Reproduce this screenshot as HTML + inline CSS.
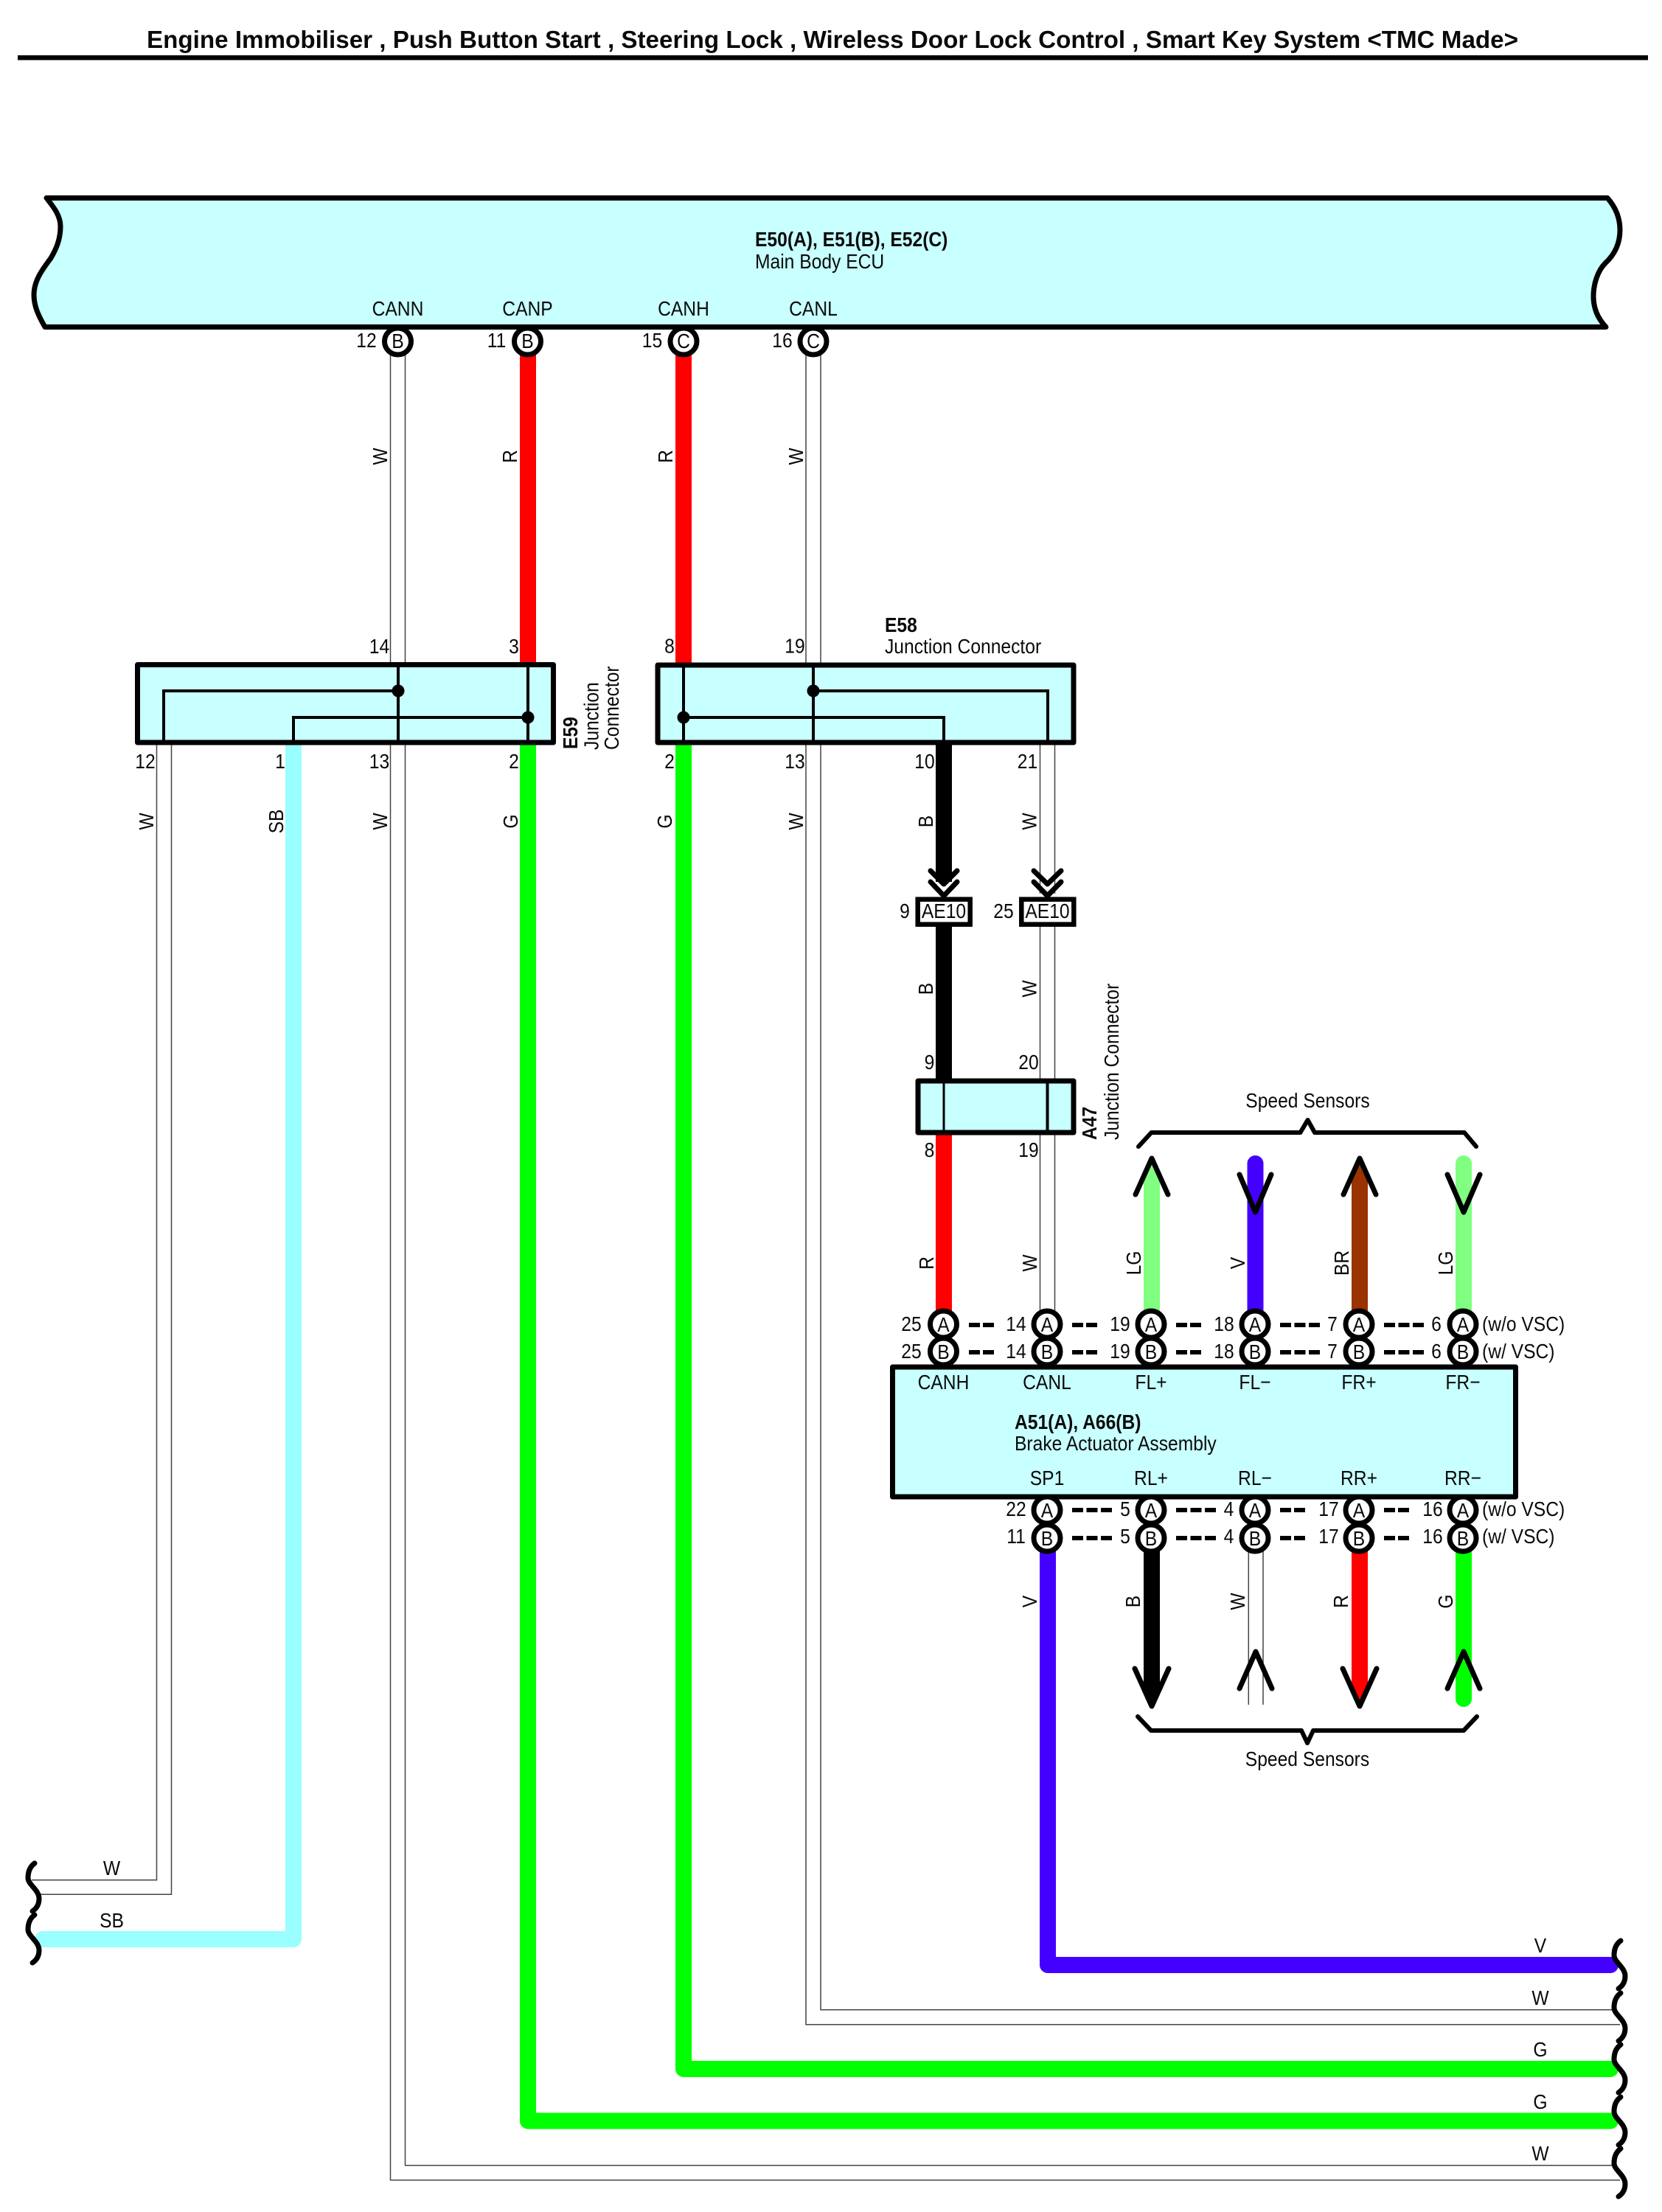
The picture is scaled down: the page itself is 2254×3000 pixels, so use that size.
<!DOCTYPE html>
<html><head><meta charset="utf-8"><title>Engine Immobiliser wiring diagram</title>
<style>
html,body{margin:0;padding:0;background:#fff}
svg{display:block}
text{font-family:"Liberation Sans",Arial,sans-serif;font-size:28px;fill:#0a0a0a;text-anchor:middle;transform-box:fill-box;transform-origin:50% 50%;transform:scaleX(.88)}
.l{text-anchor:start;transform-origin:0 50%}
.e{text-anchor:end;transform-origin:100% 50%}
.b{font-weight:bold}
.t{transform:none;font-weight:bold;font-size:33px;text-anchor:start}
.x{fill:none;stroke:#000;stroke-linecap:round;stroke-linejoin:round}
.w{fill:none;stroke:#444;stroke-width:1.5}
.box{fill:#c8ffff;stroke:#000;stroke-width:7;stroke-linejoin:round}
.in{fill:none;stroke:#000;stroke-width:4}
.p{fill:#fff;stroke:#000;stroke-width:7}
.d2{stroke:#000;stroke-width:6;stroke-dasharray:15 4}
.d3{stroke:#000;stroke-width:6;stroke-dasharray:15 4.5}
.hv{fill:none;stroke-width:22;stroke-linejoin:round}
</style></head><body>
<svg xmlns="http://www.w3.org/2000/svg" width="2254" height="3000" viewBox="0 0 2254 3000">
<rect width="2254" height="3000" fill="#fff"/>
<text class="t" x="199" y="65" textLength="1860" lengthAdjust="spacingAndGlyphs">Engine Immobiliser , Push Button Start , Steering Lock , Wireless Door Lock Control , Smart Key System &lt;TMC Made&gt;</text>
<rect x="24" y="75" width="2211" height="6.5" fill="#000"/>

<!-- thick wires -->
<path class="hv" stroke="#ff0000" d="M716,470V905"/>
<path class="hv" stroke="#ff0000" d="M927,470V905"/>
<path class="hv" stroke="#99ffff" stroke-linecap="round" d="M398,1005V2630H58"/>
<path class="hv" stroke="#00ff00" stroke-linecap="round" d="M716,1005V2876.5H2184"/>
<path class="hv" stroke="#00ff00" stroke-linecap="round" d="M927,1005V2806H2184"/>
<path class="hv" stroke="#000" d="M1280,1005V1196"/>
<path class="hv" stroke="#000" d="M1280,1250V1470"/>
<path class="hv" stroke="#ff0000" d="M1280,1530V1780"/>
<path class="hv" stroke="#4400ff" stroke-linecap="round" d="M1421,2090V2665H2184"/>

<!-- double white wires -->
<path class="w" d="M529.5,480V2956.7H2197M549.5,480V2936.7H2189"/>
<path class="w" d="M1093,480V2745.7H2197M1113,480V2725.7H2189"/>
<path class="w" d="M212.5,1005V2549.7H43M232.5,1005V2569.3H53"/>
<path class="w" d="M1410.5,1005V1212M1430.5,1005V1212"/>
<path class="w" d="M1410.5,1252V1780M1430.5,1252V1780"/>
<path class="w" d="M1693.3,2100V2312M1713,2100V2312"/>

<!-- ECU -->
<path class="box" d="M63,268.5L2180,268.5C2192,282 2197,297 2197,312C2197,330 2190,345 2177,357C2167,367 2161,385 2161,402C2161,420 2168,433 2178,443.5L61,443.5C52,428 46,415 46,400C46,380 58,365 69,350C76,338 82,325 82,307C82,292 72,280 63,268.5Z"/>
<text class="l b" x="1024" y="334">E50(A), E51(B), E52(C)</text>
<text class="l" x="1024" y="364">Main Body ECU</text>
<text x="539.5" y="428">CANN</text><text x="715.5" y="428">CANP</text><text x="927" y="428">CANH</text><text x="1103" y="428">CANL</text>
<circle class="p" cx="539.5" cy="463" r="18"/><circle class="p" cx="715.5" cy="463" r="18"/><circle class="p" cx="927" cy="463" r="18"/><circle class="p" cx="1103" cy="463" r="18"/>
<text x="539.5" y="472">B</text><text x="715.5" y="472">B</text><text x="927" y="472">C</text><text x="1103" y="472">C</text>
<text x="497" y="471">12</text><text x="673.5" y="471">11</text><text x="884.5" y="471">15</text><text x="1061" y="471">16</text>

<g transform="translate(525,619) rotate(-90)"><text>W</text></g>
<g transform="translate(701,619) rotate(-90)"><text>R</text></g>
<g transform="translate(912,619) rotate(-90)"><text>R</text></g>
<g transform="translate(1089,619) rotate(-90)"><text>W</text></g>

<!-- E59 -->
<rect class="box" x="186.5" y="901.5" width="564" height="105.5"/>
<path class="in" d="M540,901V1007M716,901V1007M222,1007V937H540M398,1007V973H716"/>
<circle cx="540" cy="937" r="8.5"/><circle cx="716" cy="973" r="8.5"/>
<text x="514.5" y="886">14</text><text x="697" y="886">3</text>
<text x="197" y="1042">12</text><text x="380" y="1042">1</text><text x="514.5" y="1042">13</text><text x="697" y="1042">2</text>
<g transform="translate(208,1114) rotate(-90)"><text>W</text></g>
<g transform="translate(384,1114) rotate(-90)"><text>SB</text></g>
<g transform="translate(525,1114) rotate(-90)"><text>W</text></g>
<g transform="translate(702,1114) rotate(-90)"><text>G</text></g>
<g transform="translate(783,1016) rotate(-90)"><text class="l b">E59</text></g>
<g transform="translate(811.5,1017) rotate(-90)"><text class="l">Junction</text></g>
<g transform="translate(839,1017) rotate(-90)"><text class="l">Connector</text></g>

<!-- E58 -->
<rect class="box" x="892" y="902" width="564" height="105"/>
<path class="in" d="M927,901V1007M1103,901V1007M1103,937H1421V1007M927,973H1280V1007"/>
<circle cx="1103" cy="937" r="8.5"/><circle cx="927" cy="973" r="8.5"/>
<text x="908" y="885.5">8</text><text x="1078" y="885.5">19</text>
<text class="l b" x="1200" y="857">E58</text><text class="l" x="1200" y="886">Junction Connector</text>
<text x="908" y="1042">2</text><text x="1078" y="1042">13</text><text x="1254" y="1042">10</text><text x="1393.5" y="1042">21</text>
<g transform="translate(911,1114) rotate(-90)"><text>G</text></g>
<g transform="translate(1089,1114) rotate(-90)"><text>W</text></g>
<g transform="translate(1265,1114) rotate(-90)"><text>B</text></g>
<g transform="translate(1405.5,1114) rotate(-90)"><text>W</text></g>

<!-- chevrons -->
<path class="x" stroke-width="7" fill="none" d="M1262,1181L1280,1199L1298,1181M1262,1196L1280,1215L1298,1196M1402,1181L1420.5,1199L1439,1181M1402,1196L1420.5,1215L1439,1196"/>

<!-- AE10 -->
<rect x="1244.7" y="1219.7" width="71" height="34" fill="#fff" stroke="#000" stroke-width="6.5"/>
<rect x="1385.3" y="1219.7" width="71" height="34" fill="#fff" stroke="#000" stroke-width="6.5"/>
<text x="1280" y="1245">AE10</text><text x="1420.5" y="1245">AE10</text>
<text x="1227" y="1245">9</text><text x="1361" y="1245">25</text>
<g transform="translate(1265,1341) rotate(-90)"><text>B</text></g>
<g transform="translate(1405.5,1341) rotate(-90)"><text>W</text></g>

<!-- A47 -->
<rect class="box" x="1245" y="1466" width="211" height="70"/>
<path class="in" d="M1280,1466V1536" style="stroke-width:3"/><path class="in" d="M1420.5,1466V1536"/>
<text x="1260.5" y="1450">9</text><text x="1395" y="1450">20</text>
<text x="1260.5" y="1569">8</text><text x="1395" y="1569">19</text>
<g transform="translate(1487,1546) rotate(-90)"><text class="l b">A47</text></g>
<g transform="translate(1517,1546) rotate(-90)"><text class="l">Junction Connector</text></g>
<g transform="translate(1266,1713) rotate(-90)"><text>R</text></g>
<g transform="translate(1406,1713) rotate(-90)"><text>W</text></g>
<g transform="translate(1547,1713) rotate(-90)"><text>LG</text></g>
<g transform="translate(1688,1713) rotate(-90)"><text>V</text></g>
<g transform="translate(1829,1713) rotate(-90)"><text>BR</text></g>
<g transform="translate(1970,1713) rotate(-90)"><text>LG</text></g>

<!-- upper sensors -->
<polygon fill="#80ff80" points="1551,1780 1573,1780 1573,1596 1562,1572 1551,1596"/>
<path class="hv" stroke="#4400ff" stroke-linecap="round" d="M1702.5,1578V1780"/>
<polygon fill="#993300" points="1833,1780 1855,1780 1855,1596 1844,1572 1833,1596"/>
<path class="hv" stroke="#80ff80" stroke-linecap="round" d="M1985,1578V1780"/>
<path class="x" stroke-width="7" d="M1540,1620L1562,1571L1584,1620M1681,1593L1702.5,1644L1724,1593M1822,1620L1844,1571L1866,1620M1963,1593L1985,1644L2007,1593"/>
<path class="x" stroke-width="6" d="M1544,1555L1561.5,1536H1763.5L1773.5,1519L1783,1536H1986L2002,1555"/>
<text x="1773.5" y="1502">Speed Sensors</text>

<!-- Brake ECU -->
<rect class="box" x="1210.5" y="1854" width="845" height="176"/>
<text x="1279.5" y="1884">CANH</text><text x="1420" y="1884">CANL</text><text x="1561" y="1884">FL+</text><text x="1702" y="1884">FL−</text><text x="1843" y="1884">FR+</text><text x="1984" y="1884">FR−</text>
<text class="l b" x="1376" y="1938">A51(A), A66(B)</text><text class="l" x="1376" y="1967">Brake Actuator Assembly</text>
<text x="1420" y="2014">SP1</text><text x="1561" y="2014">RL+</text><text x="1702" y="2014">RL−</text><text x="1843" y="2014">RR+</text><text x="1984" y="2014">RR−</text>

<!-- top pin rows -->
<g>
<circle class="p" cx="1279.5" cy="1796" r="18"/><circle class="p" cx="1420" cy="1796" r="18"/><circle class="p" cx="1561" cy="1796" r="18"/><circle class="p" cx="1702" cy="1796" r="18"/><circle class="p" cx="1843" cy="1796" r="18"/><circle class="p" cx="1984" cy="1796" r="18"/>
<circle class="p" cx="1279.5" cy="1833" r="18"/><circle class="p" cx="1420" cy="1833" r="18"/><circle class="p" cx="1561" cy="1833" r="18"/><circle class="p" cx="1702" cy="1833" r="18"/><circle class="p" cx="1843" cy="1833" r="18"/><circle class="p" cx="1984" cy="1833" r="18"/>
</g>
<text x="1279.5" y="1806">A</text><text x="1420" y="1806">A</text><text x="1561" y="1806">A</text><text x="1702" y="1806">A</text><text x="1843" y="1806">A</text><text x="1984" y="1806">A</text>
<text x="1279.5" y="1843">B</text><text x="1420" y="1843">B</text><text x="1561" y="1843">B</text><text x="1702" y="1843">B</text><text x="1843" y="1843">B</text><text x="1984" y="1843">B</text>
<text x="1236" y="1805">25</text><text x="1378" y="1805">14</text><text x="1519" y="1805">19</text><text x="1660" y="1805">18</text><text x="1807" y="1805">7</text><text x="1948" y="1805">6</text>
<text x="1236" y="1842">25</text><text x="1378" y="1842">14</text><text x="1519" y="1842">19</text><text x="1660" y="1842">18</text><text x="1807" y="1842">7</text><text x="1948" y="1842">6</text>
<path class="d2" d="M1314,1797H1348M1454,1797H1488M1595,1797H1629M1314,1834H1348M1454,1834H1488M1595,1834H1629"/>
<path class="d3" d="M1736,1797H1790M1877,1797H1931M1736,1834H1790M1877,1834H1931"/>
<text class="l" x="2010" y="1805">(w/o VSC)</text><text class="l" x="2010" y="1842">(w/ VSC)</text>

<!-- lower sensors -->
<polygon fill="#000" points="1551,2100 1573,2100 1573,2290 1562,2312 1551,2290"/>
<polygon fill="#ff0000" points="1833,2100 1855,2100 1855,2290 1844,2312 1833,2290"/>
<path class="hv" stroke="#00ff00" stroke-linecap="round" d="M1985,2100V2304"/>
<path class="x" stroke-width="7" d="M1539,2263L1562,2314L1585,2263M1821,2263L1844,2314L1867,2263M1681,2290L1703,2240L1725,2290M1963,2290L1985,2240L2007,2290"/>
<path class="x" stroke-width="6" d="M1543,2328L1561,2347H1765L1773,2364L1781,2347H1985L2003,2328"/>
<text x="1773" y="2395">Speed Sensors</text>
<g transform="translate(1406,2172) rotate(-90)"><text>V</text></g>
<g transform="translate(1546,2172) rotate(-90)"><text>B</text></g>
<g transform="translate(1688,2172) rotate(-90)"><text>W</text></g>
<g transform="translate(1828,2172) rotate(-90)"><text>R</text></g>
<g transform="translate(1970,2172) rotate(-90)"><text>G</text></g>

<!-- bottom pin rows -->
<g>
<circle class="p" cx="1420" cy="2048" r="18"/><circle class="p" cx="1561" cy="2048" r="18"/><circle class="p" cx="1702" cy="2048" r="18"/><circle class="p" cx="1843" cy="2048" r="18"/><circle class="p" cx="1984" cy="2048" r="18"/>
<circle class="p" cx="1420" cy="2086" r="18"/><circle class="p" cx="1561" cy="2086" r="18"/><circle class="p" cx="1702" cy="2086" r="18"/><circle class="p" cx="1843" cy="2086" r="18"/><circle class="p" cx="1984" cy="2086" r="18"/>
</g>
<text x="1420" y="2058">A</text><text x="1561" y="2058">A</text><text x="1702" y="2058">A</text><text x="1843" y="2058">A</text><text x="1984" y="2058">A</text>
<text x="1420" y="2096">B</text><text x="1561" y="2096">B</text><text x="1702" y="2096">B</text><text x="1843" y="2096">B</text><text x="1984" y="2096">B</text>
<text x="1378" y="2056">22</text><text x="1526" y="2056">5</text><text x="1666.5" y="2056">4</text><text x="1802" y="2056">17</text><text x="1943" y="2056">16</text>
<text x="1378" y="2093">11</text><text x="1526" y="2093">5</text><text x="1666.5" y="2093">4</text><text x="1802" y="2093">17</text><text x="1943" y="2093">16</text>
<path class="d3" d="M1454,2048H1508M1595,2048H1649M1454,2086H1508M1595,2086H1649"/>
<path class="d2" d="M1736,2048H1770M1877,2048H1911M1736,2086H1770M1877,2086H1911"/>
<text class="l" x="2010" y="2056">(w/o VSC)</text><text class="l" x="2010" y="2093">(w/ VSC)</text>

<!-- bottom labels -->
<text x="151.5" y="2543">W</text><text x="151.5" y="2614">SB</text>
<text x="2089" y="2648">V</text><text x="2089" y="2719">W</text><text x="2089" y="2789">G</text><text x="2089" y="2860">G</text><text x="2089" y="2930">W</text>

<!-- squiggles -->
<g style="stroke-width:7;fill:none;stroke:#000;stroke-linecap:round">
<path d="M47,2527C40,2532 38,2540 38,2547C38,2556 53,2563 53,2575C53,2582 50,2588 44,2592"/>
<path d="M47,2597C40,2602 38,2610 38,2617C38,2626 53,2633 53,2645C53,2652 50,2658 44,2662"/>
<path d="M2198,2632C2191,2637 2189,2645 2189,2652C2189,2661 2204,2668 2204,2680C2204,2687 2201,2693 2195,2697"/>
<path d="M2198,2703C2191,2708 2189,2716 2189,2723C2189,2732 2204,2739 2204,2751C2204,2758 2201,2764 2195,2768"/>
<path d="M2198,2773C2191,2778 2189,2786 2189,2793C2189,2802 2204,2809 2204,2821C2204,2828 2201,2834 2195,2838"/>
<path d="M2198,2844C2191,2849 2189,2857 2189,2864C2189,2873 2204,2880 2204,2892C2204,2899 2201,2905 2195,2909"/>
<path d="M2198,2914C2191,2919 2189,2927 2189,2934C2189,2943 2204,2950 2204,2962C2204,2969 2201,2975 2195,2979"/>
</g>
</svg>
</body></html>
